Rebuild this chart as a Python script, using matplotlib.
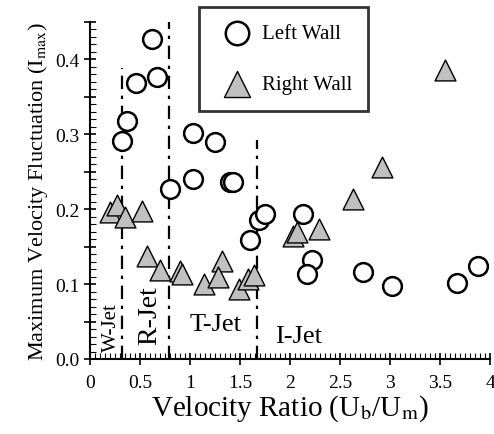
import numpy as np
import matplotlib
matplotlib.use("Agg")
import matplotlib.pyplot as plt
from matplotlib.ticker import MultipleLocator

plt.rcParams['font.family'] = ['Liberation Serif', 'DejaVu Serif']
plt.rcParams['mathtext.fontset'] = 'stix'

# Left wall (circles)
left_x = [0.32, 0.37, 0.46, 0.62, 0.67, 0.80, 1.03, 1.03, 1.25, 1.40, 1.43,
          1.60, 1.69, 1.75, 2.13, 2.22, 2.17, 2.73, 3.02, 3.67, 3.88]
left_y = [0.291, 0.318, 0.369, 0.427, 0.376, 0.227, 0.302, 0.240, 0.290, 0.236, 0.236,
          0.159, 0.186, 0.193, 0.193, 0.132, 0.113, 0.116, 0.098, 0.102, 0.124]

# Right wall (triangles)
right_x = [0.20, 0.27, 0.35, 0.52, 0.57, 0.70, 0.90, 0.92, 1.14, 1.32, 1.28,
           1.49, 1.58, 1.64, 2.03, 2.07, 2.29, 2.63, 2.92, 3.55]
right_y = [0.196, 0.205, 0.189, 0.198, 0.138, 0.119, 0.117, 0.113, 0.100, 0.131, 0.109,
           0.093, 0.107, 0.112, 0.164, 0.170, 0.174, 0.213, 0.256, 0.386]

# regime boundaries: x position, top of line
bound_x = [0.32, 0.79, 1.67]
bound_top = [0.389, 0.45, 0.293]
regimes = ['W-Jet', 'R-Jet', 'T-Jet', 'I-Jet']

xticks = [0, 0.5, 1, 1.5, 2, 2.5, 3, 3.5, 4]
xticklabels = ['0', '0.5', '1', '1.5', '2', '2.5', '3', '3.5', '4']

fig = plt.figure(figsize=(4.94, 4.35), dpi=100)
ax = fig.add_axes([90/494, 75/435, 400/494, 337/435])

for bx, bt in zip(bound_x, bound_top):
    ax.plot([bx, bx], [0, bt], color='black', lw=1.6, ls=(0, (6, 3, 1.5, 3)), zorder=1)

ax.scatter(left_x, left_y, s=13.5**2, marker='o', facecolors='white',
           edgecolors='black', linewidths=1.8, zorder=3, label='Left Wall')
ax.scatter(right_x, right_y, s=15**2, marker='^', facecolors='#c0c0c0',
           edgecolors='black', linewidths=1.0, zorder=2, label='Right Wall')

ax.text(0.215, 0.043, regimes[0], rotation=90, fontsize=15, ha='center', va='center')
ax.text(0.60, 0.059, regimes[1], rotation=90, fontsize=20, ha='center', va='center')
ax.text(1.26, 0.047, regimes[2], fontsize=19, ha='center', va='center')
ax.text(2.09, 0.031, regimes[3], fontsize=19, ha='center', va='center')

ax.set_xlim(0, 4)
ax.set_ylim(0, 0.45)
ax.set_xticks(xticks)
ax.set_xticklabels(xticklabels)
ax.xaxis.set_minor_locator(MultipleLocator(0.05))
yt = np.arange(0, 0.451, 0.05)
ax.set_yticks(yt)
ax.set_yticklabels(['%.1f' % v if i % 2 == 0 else '' for i, v in enumerate(yt)])
ax.yaxis.set_minor_locator(MultipleLocator(0.01))

ax.tick_params(which='major', direction='inout', length=8, width=1.2, labelsize=14)
ax.tick_params(which='minor', direction='in', length=4, width=0.8)
ax.tick_params(axis='x', pad=7)

for s in ['top', 'right']:
    ax.spines[s].set_visible(False)
for s in ['left', 'bottom']:
    ax.spines[s].set_linewidth(1.5)

ax.set_xlabel('Velocity Ratio (U$_\\mathrm{b}$/U$_\\mathrm{m}$)', fontsize=21, labelpad=1)
ax.set_ylabel('Maximum Velocity Fluctuation (I$_\\mathrm{max}$)', fontsize=16, labelpad=4)

leg = ax.legend(loc='upper left', bbox_to_anchor=(199/494, 1 - 8/435),
                bbox_transform=fig.transFigure, fontsize=15, frameon=True,
                fancybox=False, edgecolor='black', borderpad=0.8, markerscale=1.25,
                labelspacing=1.5, handletextpad=0.2, borderaxespad=0)
leg.get_frame().set_linewidth(2)
leg.set_zorder(5)

fig.savefig('out.png', dpi=100)
